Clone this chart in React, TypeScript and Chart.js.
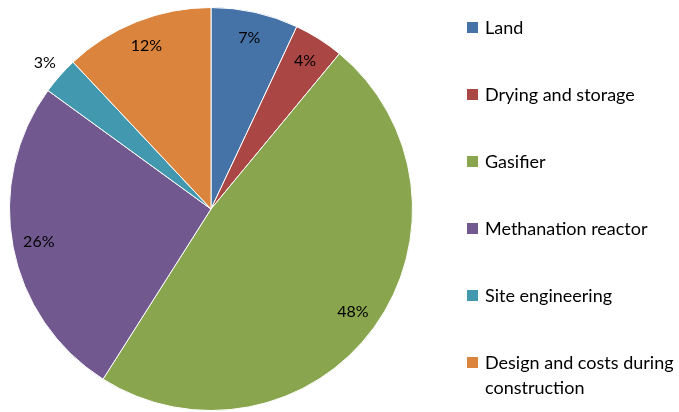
import React, { useEffect, useRef } from "react";
import { Chart, registerables } from "chart.js";

Chart.register(...registerables);

const categories = [
  "Land",
  "Drying and storage",
  "Gasifier",
  "Methanation reactor",
  "Site engineering",
  "Design and costs during construction",
];
const legendLines = [
  ["Land"],
  ["Drying and storage"],
  ["Gasifier"],
  ["Methanation reactor"],
  ["Site engineering"],
  ["Design and costs during", "construction"],
];
const shares = [7, 4, 48, 26, 3, 12];
const colors = ["#4572A7", "#AA4643", "#89A54E", "#71588F", "#4198AF", "#DB843D"];

const FONT = "Lato, 'Open Sans', sans-serif";

const labelPlugin = {
  id: "sliceLabels",
  afterDatasetsDraw(chart: any) {
    const ctx = chart.ctx;
    const meta = chart.getDatasetMeta(0);
    ctx.save();
    ctx.font = `16px ${FONT}`;
    ctx.fillStyle = "#000";
    ctx.textAlign = "center";
    ctx.textBaseline = "middle";
    meta.data.forEach((arc: any, i: number) => {
      const p = arc.getProps(["x", "y", "startAngle", "endAngle", "outerRadius"], true);
      const mid = (p.startAngle + p.endAngle) / 2;
      const r = i === 4 ? p.outerRadius * 1.1 : p.outerRadius * 0.87;
      const val = chart.data.datasets[0].data[i];
      ctx.fillText(`${val}%`, p.x + Math.cos(mid) * r, p.y + Math.sin(mid) * r);
    });
    ctx.restore();
  },
};

const legendPlugin = {
  id: "sideLegend",
  afterDraw(chart: any) {
    const ctx = chart.ctx;
    ctx.save();
    ctx.font = `18px ${FONT}`;
    ctx.textAlign = "left";
    ctx.textBaseline = "alphabetic";
    legendLines.forEach((lines, i) => {
      const cy = 27.5 + 67 * i;
      ctx.fillStyle = colors[i];
      ctx.fillRect(467, cy - 5.5, 11, 11);
      ctx.fillStyle = "#000";
      lines.forEach((t, j) => {
        ctx.fillText(t, 485, cy + 6.5 + j * 25);
      });
    });
    ctx.restore();
  },
};

export default function App() {
  const ref = useRef<HTMLCanvasElement>(null);
  useEffect(() => {
    document.body.style.margin = "0";
    const chart = new Chart(ref.current!, {
      type: "pie",
      data: {
        labels: categories,
        datasets: [
          {
            data: shares,
            backgroundColor: colors,
            borderColor: "#ffffff",
            borderWidth: 1,
          },
        ],
      },
      options: {
        animation: false,
        responsive: false,
        maintainAspectRatio: false,
        layout: { padding: { left: 9, right: 266, top: 7, bottom: 1 } },
        plugins: {
          legend: { display: false },
          tooltip: { enabled: false },
        },
      },
      plugins: [labelPlugin, legendPlugin],
    });
    return () => chart.destroy();
  }, []);
  return (
    <div style={{ width: 679, height: 412 }}>
      <canvas ref={ref} width={679} height={412} />
    </div>
  );
}
